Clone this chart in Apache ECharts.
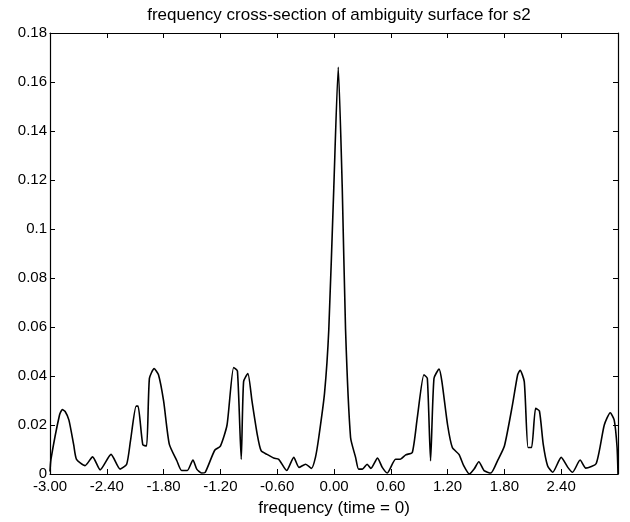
<!DOCTYPE html>
<html style="height: 100%">
<head>
    <meta charset="utf-8">
    <style>
        html, body {
            height: 100%;
            margin: 0;
            padding: 0;
            overflow: hidden;
            background: #fff;
        }
        #container {
            width: 630px;
            height: 522px;
        }
    </style>
</head>
<body>
    <div id="container"></div>
    <script src="https://cdn.jsdelivr.net/npm/echarts@6/dist/echarts.min.js"></script>
    <script>
        // frequency values (x)
        var freq = [-3.00, -2.99, -2.90, -2.87, -2.84, -2.80, -2.75, -2.72, -2.63, -2.55,
            -2.47, -2.355, -2.26, -2.19, -2.15, -2.09, -2.07, -2.02, -1.98, -1.95,
            -1.90, -1.854, -1.80, -1.74, -1.66, -1.61, -1.55, -1.49, -1.45, -1.40,
            -1.36, -1.26, -1.20, -1.13, -1.06, -1.02, -0.98, -0.955, -0.91, -0.866,
            -0.81, -0.77, -0.707, -0.637, -0.584, -0.50, -0.425, -0.37, -0.30, -0.238,
            -0.196, -0.161, -0.10, -0.055, -0.002, 0.045, 0.087, 0.122, 0.175, 0.228,
            0.26, 0.30, 0.35, 0.39, 0.46, 0.51, 0.563, 0.65, 0.70, 0.757,
            0.827, 0.88, 0.95, 0.986, 1.02, 1.056, 1.11, 1.14, 1.20, 1.25,
            1.32, 1.37, 1.43, 1.48, 1.53, 1.585, 1.656, 1.727, 1.80, 1.886,
            1.94, 1.966, 2.01, 2.05, 2.087, 2.13, 2.17, 2.21, 2.256, 2.31,
            2.40, 2.47, 2.52, 2.60, 2.66, 2.77, 2.855, 2.918, 2.96, 2.99, 3.00];

        // ambiguity surface cross-section values (y)
        var ambig = [0.001, 0.006, 0.024, 0.0263, 0.0255, 0.022, 0.012, 0.006, 0.0034, 0.007,
            0.0017, 0.008, 0.002, 0.004, 0.0135, 0.0277, 0.0277, 0.012, 0.0114, 0.039,
            0.043, 0.0405, 0.0298, 0.0122, 0.0054, 0.0014, 0.0014, 0.0057, 0.002, 0.0004,
            0.0007, 0.0097, 0.0114, 0.020, 0.0435, 0.042, 0.006, 0.0377, 0.041, 0.0297,
            0.016, 0.0095, 0.008, 0.0065, 0.006, 0.0014, 0.0068, 0.0027, 0.004, 0.0023,
            0.0068, 0.0149, 0.033, 0.059, 0.117, 0.166, 0.117, 0.059, 0.0149, 0.0068,
            0.002, 0.002, 0.004, 0.0023, 0.0065, 0.0027, 0.0004, 0.006, 0.006, 0.0078,
            0.0088, 0.023, 0.0405, 0.039, 0.0054, 0.039, 0.0428, 0.0377, 0.020, 0.0108,
            0.008, 0.0034, 0.0, 0.002, 0.005, 0.0014, 0.0004, 0.0054, 0.0114, 0.0284,
            0.0405, 0.0423, 0.0377, 0.0108, 0.0108, 0.0268, 0.0257, 0.0122, 0.0034, 0.0007,
            0.0068, 0.0027, 0.0007, 0.0057, 0.0024, 0.0043, 0.020, 0.025, 0.022, 0.011, 0.0];

        var titleText = 'frequency cross-section of ambiguity surface for s2';
        var xName = 'frequency (time = 0)';

        var pts = freq.map(function (f, i) { return [f, ambig[i]]; });

        var font = '"Liberation Sans", Arial, sans-serif';
        var axisLine = { show: true, onZero: false, lineStyle: { color: '#000', width: 1.2 } };
        var tick = { show: true, inside: true, length: 5, lineStyle: { color: '#000' } };

        var myChart = echarts.init(document.getElementById('container'));
        var option = {
            animation: false,
            backgroundColor: '#fff',
            title: {
                text: titleText,
                left: 334,
                textAlign: 'center',
                top: 2,
                textStyle: { fontFamily: font, fontSize: 17, fontWeight: 'normal', color: '#000' }
            },
            grid: { left: 50, right: 12, top: 33, bottom: 45 },
            xAxis: [{
                type: 'value',
                min: -3, max: 3, interval: 0.6,
                name: xName,
                nameLocation: 'middle',
                nameGap: 26,
                nameTextStyle: { fontFamily: font, fontSize: 17, color: '#000' },
                axisLine: axisLine,
                axisTick: tick,
                splitLine: { show: false },
                axisLabel: {
                    fontFamily: font, fontSize: 15, color: '#000', margin: 5,
                    formatter: function (v) {
                        if (Math.abs(v - 3) < 1e-6) return '';
                        return v.toFixed(2);
                    }
                }
            }, {
                type: 'value',
                position: 'top',
                min: -3, max: 3, interval: 0.6,
                axisLine: axisLine,
                axisTick: tick,
                splitLine: { show: false },
                axisLabel: { show: false }
            }],
            yAxis: [{
                type: 'value',
                min: 0, max: 0.18, interval: 0.02,
                axisLine: axisLine,
                axisTick: tick,
                splitLine: { show: false },
                axisLabel: {
                    fontFamily: font, fontSize: 15, color: '#000', margin: 3,
                    formatter: function (v) { return String(parseFloat(v.toFixed(2))); }
                }
            }, {
                type: 'value',
                position: 'right',
                min: 0, max: 0.18, interval: 0.02,
                axisLine: axisLine,
                axisTick: tick,
                splitLine: { show: false },
                axisLabel: { show: false }
            }],
            series: [{
                type: 'line',
                data: pts,
                showSymbol: false,
                symbol: 'none',
                smooth: 0.2,
                lineStyle: { color: '#000', width: 1.6 },
                clip: true
            }]
        };
        myChart.setOption(option);
    </script>
</body>
</html>
